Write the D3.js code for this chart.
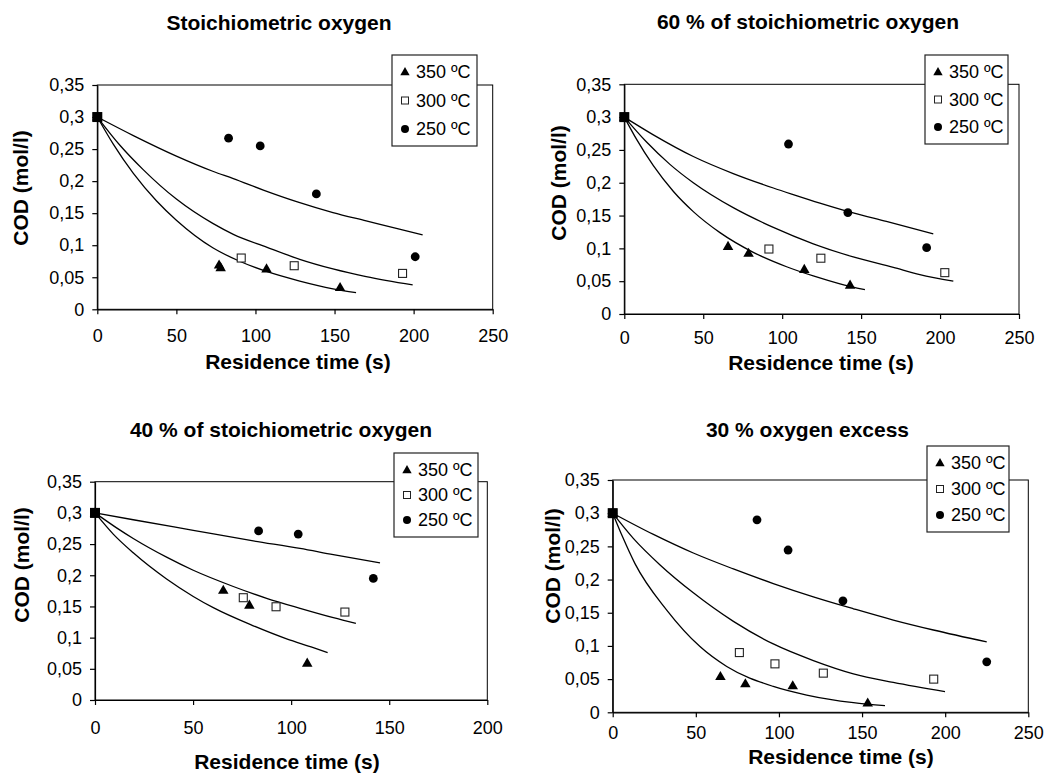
<!DOCTYPE html>
<html>
<head>
<meta charset="utf-8">
<script src="https://cdn.jsdelivr.net/npm/d3@7"></script>
<style>
body { margin: 0; background: #fff; }
svg { font-family: "Liberation Sans", Arial, Helvetica, sans-serif; }
</style>
</head>
<body>
<svg id="chart" width="1044" height="774"></svg>
<script>
// ---- data ----
var titles = ["Stoichiometric oxygen", "60 % of stoichiometric oxygen",
              "40 % of stoichiometric oxygen", "30 % oxygen excess"];
var seriesNames = ["350 ºC", "300 ºC", "250 ºC"];
var yTicks = [0, 0.05, 0.1, 0.15, 0.2, 0.25, 0.3, 0.35];
var xTicks250 = [0, 50, 100, 150, 200, 250];
var xTicks200 = [0, 50, 100, 150, 200];

// panel 1: stoichiometric oxygen
var p1Tri = [[0, 0.3], [77, 0.069], [78, 0.065], [107, 0.063], [153.5, 0.034]];
var p1Sq  = [[0, 0.3], [91, 0.080], [124.5, 0.068], [193, 0.056]];
var p1Dot = [[0, 0.3], [83, 0.267], [103, 0.255], [138.5, 0.180], [201, 0.082]];
var p1Fit350 = [[0, 0.3], [10, 0.258], [22.8, 0.212], [37.5, 0.169], [50, 0.139], [73, 0.096],
                [90, 0.075], [107, 0.059], [128, 0.044], [149, 0.032], [163.6, 0.026]];
var p1Fit300 = [[0, 0.3], [14.3, 0.256], [29, 0.218], [50, 0.172], [73, 0.134], [86, 0.117],
                [107, 0.097], [128, 0.078], [149, 0.063], [170, 0.051], [199.4, 0.038]];
var p1Fit250 = [[0, 0.3], [22.8, 0.271], [50, 0.239], [73.4, 0.215], [86, 0.204], [105, 0.186],
                [126, 0.168], [149, 0.151], [170, 0.138], [191, 0.125], [205.7, 0.116]];

// panel 2: 60 % of stoichiometric oxygen
var p2Tri = [[0, 0.3], [65.7, 0.103], [78.7, 0.0925], [114, 0.068], [143, 0.044]];
var p2Sq  = [[0, 0.3], [91.6, 0.099], [124.5, 0.085], [203, 0.063]];
var p2Dot = [[0, 0.3], [104, 0.259], [141.6, 0.1545], [191.5, 0.101]];
var p2Fit350 = [[0, 0.3], [7.8, 0.266], [18.4, 0.226], [31, 0.187], [43.7, 0.156], [60.6, 0.124],
                [81.7, 0.094], [102.8, 0.072], [119.7, 0.058], [136.6, 0.046], [152.4, 0.037]];
var p2Fit300 = [[0, 0.3], [14.1, 0.262], [28.9, 0.228], [43.7, 0.200], [69, 0.162], [94.4, 0.132],
                [119.7, 0.107], [145, 0.087], [170.4, 0.071], [187.2, 0.060], [208.4, 0.050]];
var p2Fit250 = [[0, 0.3], [18.4, 0.273], [43.7, 0.240], [69, 0.214], [94.4, 0.192], [107, 0.182],
                [123.9, 0.169], [145, 0.154], [166, 0.141], [195.7, 0.122]];

// panel 3: 40 % of stoichiometric oxygen
var p3Tri = [[0, 0.3], [65.4, 0.176], [78.7, 0.152], [108.2, 0.059]];
var p3Sq  = [[0, 0.3], [75.6, 0.164], [92.3, 0.1495], [127.4, 0.141]];
var p3Dot = [[0, 0.3], [83.4, 0.271], [103.6, 0.266], [141.9, 0.195]];
var p3Fit350 = [[0, 0.3], [9.3, 0.266], [19.5, 0.236], [36.5, 0.194], [50.1, 0.166], [60.3, 0.148],
                [80.7, 0.119], [97.7, 0.098], [111.3, 0.084], [118.6, 0.076]];
var p3Fit300 = [[0, 0.3], [11, 0.276], [19.5, 0.259], [36.5, 0.229], [50.1, 0.208], [70.5, 0.182],
                [87.5, 0.163], [104.5, 0.147], [121.5, 0.132], [133, 0.123]];
var p3Fit250 = [[0, 0.3], [19.5, 0.289], [50.1, 0.272], [80.7, 0.255], [104.5, 0.243],
                [121.5, 0.233], [145.3, 0.220]];

// panel 4: 30 % oxygen excess
var p4Tri = [[0, 0.3], [64.8, 0.054], [79.8, 0.043], [108.3, 0.040], [153.4, 0.014]];
var p4Sq  = [[0, 0.3], [76.2, 0.090], [97.6, 0.073], [126.7, 0.059], [193.1, 0.050]];
var p4Dot = [[0, 0.3], [86.8, 0.290], [105.5, 0.2445], [138.5, 0.168], [225, 0.076]];
var p4Fit350 = [[0, 0.3], [6, 0.264], [13.4, 0.224], [32.5, 0.154], [52.5, 0.099], [68.6, 0.069],
                [96.6, 0.039], [116.7, 0.026], [144.8, 0.0145], [163.8, 0.010]];
var p4Fit300 = [[0, 0.3], [12.4, 0.262], [28.5, 0.222], [48.5, 0.180], [72.6, 0.137], [96.6, 0.103],
                [120.7, 0.078], [144.8, 0.058], [168.8, 0.045], [199.9, 0.031]];
var p4Fit250 = [[0, 0.3], [24.5, 0.268], [48.5, 0.240], [72.6, 0.216], [96.6, 0.194], [120.7, 0.174],
                [144.8, 0.156], [168.8, 0.139], [192.9, 0.124], [225, 0.106]];

// ---- layout (pixels) ----
var panels = [
    {title: titles[0], tri: p1Tri, sq: p1Sq, dot: p1Dot, fits: [p1Fit350, p1Fit300, p1Fit250],
     xMax: 250, xTicks: xTicks250, left: 97.3, right: 492.7, top: 85, bottom: 309.3, xPad: 15,
     titlePos: [279, 30], xTitlePos: [298, 369], yTitlePos: [28, 188], legend: [392, 55, 85, 91]},
    {title: titles[1], tri: p2Tri, sq: p2Sq, dot: p2Dot, fits: [p2Fit350, p2Fit300, p2Fit250],
     xMax: 250, xTicks: xTicks250, left: 624.3, right: 1019, top: 84.3, bottom: 314, xPad: 12.5,
     titlePos: [808, 29], xTitlePos: [821, 370], yTitlePos: [566, 183], legend: [925, 55, 83, 89]},
    {title: titles[2], tri: p3Tri, sq: p3Sq, dot: p3Dot, fits: [p3Fit350, p3Fit300, p3Fit250],
     xMax: 200, xTicks: xTicks200, left: 95, right: 487.3, top: 481.7, bottom: 700, xPad: 16,
     titlePos: [281, 437], xTitlePos: [287, 769], yTitlePos: [29, 565], legend: [394, 453, 84, 84]},
    {title: titles[3], tri: p4Tri, sq: p4Sq, dot: p4Dot, fits: [p4Fit350, p4Fit300, p4Fit250],
     xMax: 250, xTicks: xTicks250, left: 612.7, right: 1028.3, top: 480, bottom: 712.3, xPad: 9,
     titlePos: [807.5, 437], xTitlePos: [841, 764], yTitlePos: [560, 566], legend: [927, 446, 82, 86]}
];

var svg = d3.select('#chart');
var fmt = (d) => String(d).replace('.', ',');
var tri = d3.symbol(d3.symbolTriangle);

panels.forEach(function(p) {
    var g = svg.append('g');
    var x = d3.scaleLinear().domain([0, p.xMax]).range([p.left, p.right]);
    var y = d3.scaleLinear().domain([0, 0.35]).range([p.bottom, p.top]);

    // Frame (top and right sides)
    g.append('rect')
        .attr('x', p.left).attr('y', p.top)
        .attr('width', p.right - p.left).attr('height', p.bottom - p.top)
        .attr('fill', 'none').attr('stroke', '#000').attr('stroke-width', 1);

    // Axes:
    var ya = g.append('g').attr('transform', 'translate(' + p.left + ',0)')
        .call(d3.axisLeft(y).tickValues(yTicks).tickFormat(fmt).tickSize(5).tickSizeOuter(0).tickPadding(8));
    var xa = g.append('g').attr('transform', 'translate(0,' + p.bottom + ')')
        .call(d3.axisBottom(x).tickValues(p.xTicks).tickFormat(fmt).tickSize(5).tickSizeOuter(0).tickPadding(p.xPad));
    [ya, xa].forEach(function(a) {
        a.attr('font-family', null).attr('font-size', 18);
        a.selectAll('text').attr('fill', '#000');
        a.selectAll('line, path').attr('stroke', '#000').attr('stroke-width', 1.2);
    });

    // Model curves:
    var line = d3.line().x((d) => x(d[0])).y((d) => y(d[1])).curve(d3.curveMonotoneX);
    g.selectAll('path.fit').data(p.fits).enter().append('path')
        .classed('fit', true)
        .attr('d', line)
        .attr('fill', 'none').attr('stroke', '#000').attr('stroke-width', 1.3);

    // Experimental points:
    g.selectAll('rect.sq').data(p.sq).enter().append('rect')
        .classed('sq', true)
        .attr('x', (d) => x(d[0]) - 4).attr('y', (d) => y(d[1]) - 4)
        .attr('width', 8).attr('height', 8)
        .attr('fill', '#fff').attr('stroke', '#222').attr('stroke-width', 1.1);
    g.selectAll('path.tri').data(p.tri).enter().append('path')
        .classed('tri', true)
        .attr('d', tri.size(48))
        .attr('transform', (d) => 'translate(' + x(d[0]) + ',' + (y(d[1]) + 0.5) + ')')
        .attr('fill', '#000');
    g.selectAll('circle.dot').data(p.dot).enter().append('circle')
        .classed('dot', true)
        .attr('cx', (d) => x(d[0])).attr('cy', (d) => y(d[1])).attr('r', 4.4)
        .attr('fill', '#000');
    // start point shows as a filled square
    g.append('rect')
        .attr('x', x(0) - 5).attr('y', y(0.3) - 5).attr('width', 10).attr('height', 10)
        .attr('fill', '#000');

    // Titles:
    g.append('text')
        .attr('x', p.titlePos[0]).attr('y', p.titlePos[1])
        .attr('text-anchor', 'middle').attr('font-weight', 'bold').attr('font-size', 21)
        .text(p.title);
    g.append('text')
        .attr('x', p.xTitlePos[0]).attr('y', p.xTitlePos[1])
        .attr('text-anchor', 'middle').attr('font-weight', 'bold').attr('font-size', 21)
        .text('Residence time (s)');
    g.append('text')
        .attr('transform', 'translate(' + p.yTitlePos[0] + ',' + p.yTitlePos[1] + ') rotate(-90)')
        .attr('text-anchor', 'middle').attr('font-weight', 'bold').attr('font-size', 21)
        .text('COD (mol/l)');

    // Legend:
    var L = p.legend;
    var leg = g.append('g');
    leg.append('rect')
        .attr('x', L[0]).attr('y', L[1]).attr('width', L[2]).attr('height', L[3])
        .attr('fill', '#fff').attr('stroke', '#222').attr('stroke-width', 1.2);
    var step = (L[3] - 34) / 2;
    var rows = leg.selectAll('g').data(seriesNames).enter().append('g')
        .attr('transform', (d, i) => 'translate(' + (L[0] + 13) + ',' + (L[1] + 17 + i * step) + ')');
    rows.append('text')
        .attr('x', 11).attr('dy', '0.36em').attr('font-size', 18)
        .text((d) => d);
    rows.filter((d, i) => i === 0).append('path')
        .attr('d', tri.size(38)).attr('transform', 'translate(0,0.5)').attr('fill', '#000');
    rows.filter((d, i) => i === 1).append('rect')
        .attr('x', -3.5).attr('y', -3.5).attr('width', 7).attr('height', 7)
        .attr('fill', '#fff').attr('stroke', '#222').attr('stroke-width', 1);
    rows.filter((d, i) => i === 2).append('circle')
        .attr('r', 4).attr('fill', '#000');
});
</script>
</body>
</html>
